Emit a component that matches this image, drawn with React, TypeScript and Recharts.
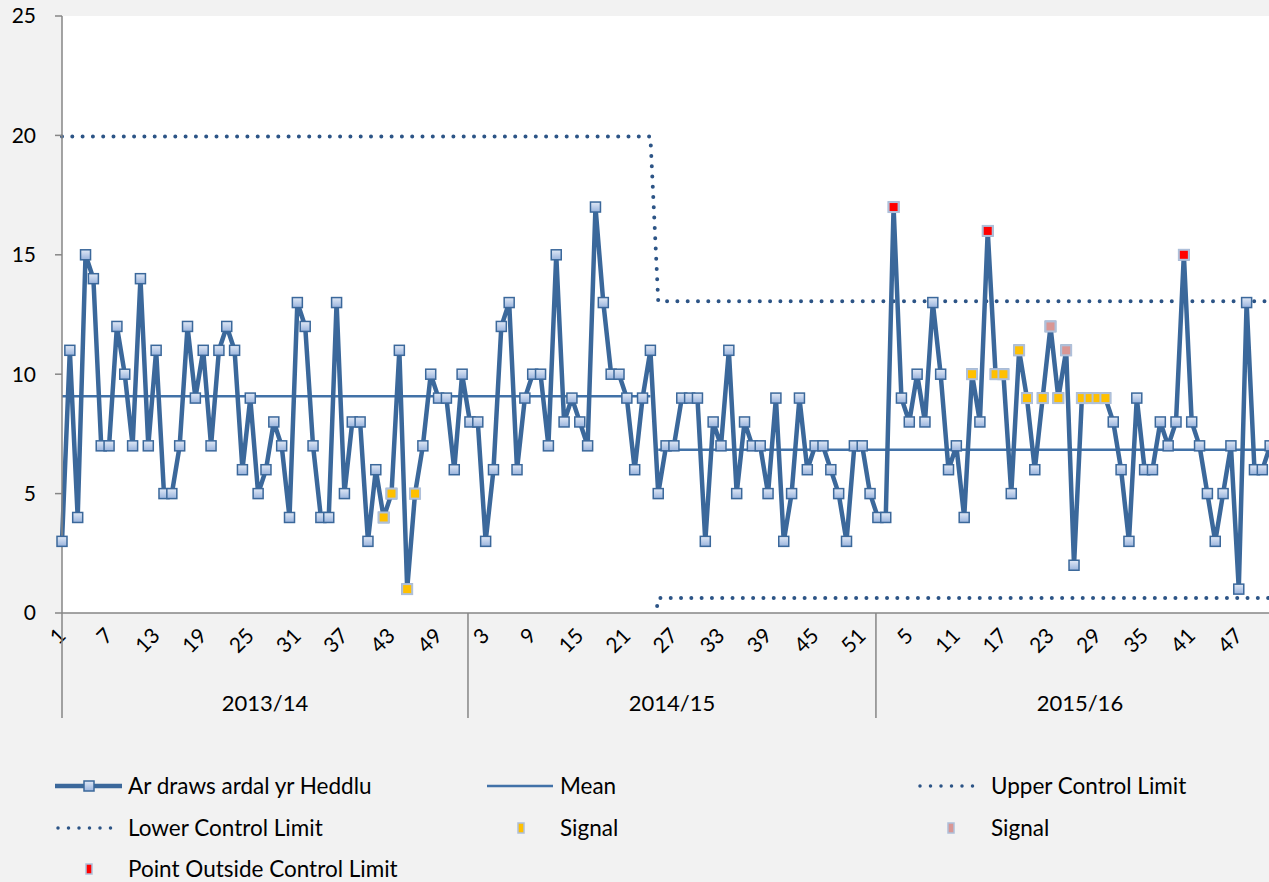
import React from 'react';
import { LineChart, Line, XAxis, YAxis, CartesianGrid } from 'recharts';

// ---------- data ----------
const years = ['2013/14', '2014/15', '2015/16'];
const weeksPerYear = 52;

const values2013 = [3, 11, 4, 15, 14, 7, 7, 12, 10, 7, 14, 7, 11, 5, 5, 7, 12, 9, 11, 7, 11, 12, 11, 6, 9, 5, 6, 8, 7, 4, 13, 12, 7, 4, 4, 13, 5, 8, 8, 3, 6, 4, 5, 11, 1, 5, 7, 10, 9, 9, 6, 10];
const values2014 = [8, 8, 3, 6, 12, 13, 6, 9, 10, 10, 7, 15, 8, 9, 8, 7, 17, 13, 10, 10, 9, 6, 9, 11, 5, 7, 7, 9, 9, 9, 3, 8, 7, 11, 5, 8, 7, 7, 5, 9, 3, 5, 9, 6, 7, 7, 6, 5, 3, 7, 7, 5];
const values2015 = [4, 4, 17, 9, 8, 10, 8, 13, 10, 6, 7, 4, 10, 8, 16, 10, 10, 5, 11, 9, 6, 9, 12, 9, 11, 2, 9, 9, 9, 9, 8, 6, 3, 9, 6, 6, 8, 7, 8, 15, 8, 7, 5, 3, 5, 7, 1, 13, 6, 6, 7];
const seriesValues = [values2013, values2014, values2015];

// signal weeks
const amberWeeks2013 = [42, 43, 45, 46];
const amberWeeks2015 = [13, 16, 17, 19, 20, 22, 24, 27, 28, 29, 30];
const pinkWeeks2015 = [23, 25];
const outsideWeeks2015 = [3, 15, 40];

// control limits (two phases; phase 2 starts 2014/15 week 25)
const meanPhases = [9.08, 6.84];
const uclPhases = [19.95, 13.05];
const lclPhases = [-1.79, 0.63];
const phaseChangeYear = 1;
const phaseChangeWeek = 25;

const yTicks = [0, 5, 10, 15, 20, 25];

// ---------- build rows ----------
type Row = {
  idx: number; year: string; week: number; value: number | null;
  mean1: number | null; mean2: number | null; ucl: number; lcl: number;
  amber: number | null; pink: number | null; red: number | null;
};
const rows: Row[] = [];
years.forEach((year, yi) => {
  for (let w = 1; w <= weeksPerYear; w++) {
    const v = seriesValues[yi][w - 1];
    const value = v === undefined ? null : v;
    const phase = yi > phaseChangeYear || (yi === phaseChangeYear && w >= phaseChangeWeek) ? 1 : 0;
    const amberList = yi === 0 ? amberWeeks2013 : yi === 2 ? amberWeeks2015 : [];
    const pinkList = yi === 2 ? pinkWeeks2015 : [];
    const redList = yi === 2 ? outsideWeeks2015 : [];
    rows.push({
      idx: rows.length, year, week: w, value,
      mean1: phase === 0 ? meanPhases[0] : null,
      mean2: phase === 1 ? meanPhases[1] : null,
      ucl: uclPhases[phase], lcl: lclPhases[phase],
      amber: amberList.includes(w) ? value : null,
      pink: pinkList.includes(w) ? value : null,
      red: redList.includes(w) ? value : null,
    });
  }
});

// ---------- layout ----------
const W = 1278;
const H = 882;
const YAXIS_W = 62;
const TOP = 16;
const AXIS_Y = 613;
const X_AXIS_H = 110;
const N = rows.length;
const STEP = (W - YAXIS_W) / (N - 1);
const FONT = 'Lato, "Open Sans", sans-serif';

const LINE = '#3B689B';
const MEAN = '#4272A8';
const LIMIT = '#2C5486';
const GRID = '#868686';
const MK = 10;

const MainDot = (props: any) => {
  const { cx, cy, index } = props;
  if (cx == null || cy == null || isNaN(cy)) return <g key={`m${index}`} />;
  return (
    <rect key={`m${index}`} x={cx - MK / 2} y={cy - MK / 2} width={MK} height={MK}
      fill="url(#markerGrad)" stroke={LINE} strokeWidth={1.5} />
  );
};

const makeSignalDot = (fill: string, prefix: string) => (props: any) => {
  const { cx, cy, index } = props;
  if (cx == null || cy == null || isNaN(cy)) return <g key={`${prefix}${index}`} />;
  return (
    <rect key={`${prefix}${index}`} x={cx - MK / 2} y={cy - MK / 2} width={MK} height={MK}
      fill={fill} stroke="#AFC0DA" strokeWidth={2} />
  );
};
const AmberDot = makeSignalDot('#FFC000', 'a');
const PinkDot = makeSignalDot('#D99694', 'p');
const RedDot = makeSignalDot('#FF0000', 'r');

const WeekTick = (props: any) => {
  const { x, payload } = props;
  const row = rows[payload.value];
  if (!row) return <g />;
  const parts: React.ReactNode[] = [];
  if (row.idx % 6 === 0) {
    const ax = x + 5;
    const ay = AXIS_Y + 24;
    parts.push(
      <text key="l" x={ax} y={ay} textAnchor="end" transform={`rotate(-45, ${ax}, ${ay})`}
        fontSize={21} fontFamily={FONT} fill="#000">{row.week}</text>
    );
  }
  if (row.week === 1) {
    const sepX = row.idx === 0 ? x : x - STEP * 0.25;
    parts.push(<line key="s" x1={sepX} x2={sepX} y1={AXIS_Y} y2={AXIS_Y + 105} stroke={GRID} strokeWidth={1.5} />);
    const cx = row.idx === 0 ? x + (weeksPerYear - 0.25) * STEP / 2 : sepX + (weeksPerYear * STEP) / 2;
    parts.push(
      <text key="y" x={cx} y={AXIS_Y + 98} textAnchor="middle" fontSize={22} fontFamily={FONT} fill="#000">{row.year}</text>
    );
  }
  return <g>{parts}</g>;
};

const legendRows = [
  { y: 786, items: [
    { kind: 'main', x: 55, label: 'Ar draws ardal yr Heddlu', tx: 128 },
    { kind: 'mean', x: 487, label: 'Mean', tx: 560 },
    { kind: 'dots', x: 917, label: 'Upper Control Limit', tx: 991 },
  ] },
  { y: 828, items: [
    { kind: 'dots', x: 55, label: 'Lower Control Limit', tx: 128 },
    { kind: 'amber', x: 487, label: 'Signal', tx: 560 },
    { kind: 'pink', x: 917, label: 'Signal', tx: 991 },
  ] },
  { y: 869, items: [
    { kind: 'red', x: 55, label: 'Point Outside Control Limit', tx: 128 },
  ] },
];

const LegendIcon = ({ kind, x, y }: { kind: string; x: number; y: number }) => {
  const cx = x + 34;
  if (kind === 'main') {
    return (
      <g>
        <line x1={x} x2={x + 67} y1={y} y2={y} stroke={LINE} strokeWidth={4.5} />
        <rect x={cx - MK / 2} y={y - MK / 2} width={MK} height={MK} fill="url(#markerGrad)" stroke={LINE} strokeWidth={1.5} />
      </g>
    );
  }
  if (kind === 'mean') return <line x1={x} x2={x + 66} y1={y} y2={y} stroke={MEAN} strokeWidth={2.5} />;
  if (kind === 'dots') {
    return <line x1={x + 3} x2={x + 66} y1={y} y2={y} stroke={LIMIT} strokeWidth={3.5} strokeLinecap="round" strokeDasharray="0 10.5" />;
  }
  const fill = kind === 'amber' ? '#FFC000' : kind === 'pink' ? '#D99694' : '#FF0000';
  return <rect x={cx - 3} y={y - 5} width={6} height={10} fill={fill} stroke="#AFC0DA" strokeWidth={1.5} />;
};

export default function App() {
  return (
    <div style={{ position: 'fixed', left: 0, top: 0, width: 1269, height: 882, overflow: 'hidden', background: '#F2F2F2' }}>
      <svg width={0} height={0} style={{ position: 'absolute' }}>
        <defs>
          <linearGradient id="markerGrad" x1="0" y1="0" x2="0" y2="1">
            <stop offset="0%" stopColor="#E1E9F6" />
            <stop offset="100%" stopColor="#98B3DD" />
          </linearGradient>
        </defs>
      </svg>
      <div style={{ position: 'absolute', left: 0, top: 0 }}>
        <LineChart width={W} height={H} data={rows}
          margin={{ top: TOP, right: 0, left: 0, bottom: H - AXIS_Y - X_AXIS_H }}>
          <CartesianGrid horizontal={false} vertical={false} fill="#FFFFFF" fillOpacity={1} stroke="none" />
          <XAxis dataKey="idx" type="category" scale="point" interval={0} height={X_AXIS_H}
            tick={<WeekTick />} tickLine={false} axisLine={{ stroke: GRID, strokeWidth: 1.5 }}
            padding={{ left: 0, right: 0 }} />
          <YAxis yAxisId="main" width={YAXIS_W} domain={[0, 25]} ticks={yTicks} interval={0}
            tick={{ fontSize: 21, fontFamily: FONT, fill: '#000' }}
            tickSize={7} tickMargin={19}
            tickLine={{ stroke: GRID, strokeWidth: 1.5 }} axisLine={{ stroke: GRID, strokeWidth: 1.5 }} />
          <YAxis yAxisId="clip" orientation="right" hide width={0} domain={[0, 25]} allowDataOverflow />
          <Line yAxisId="main" dataKey="mean1" stroke={MEAN} strokeWidth={2.5} dot={false} activeDot={false} isAnimationActive={false} />
          <Line yAxisId="main" dataKey="mean2" stroke={MEAN} strokeWidth={2.5} dot={false} activeDot={false} isAnimationActive={false} />
          <Line yAxisId="main" dataKey="ucl" stroke={LIMIT} strokeWidth={4} strokeLinecap="round" strokeDasharray="0 10.3" dot={false} activeDot={false} isAnimationActive={false} />
          <Line yAxisId="clip" dataKey="lcl" stroke={LIMIT} strokeWidth={4} strokeLinecap="round" strokeDasharray="0 10.3" dot={false} activeDot={false} isAnimationActive={false} />
          <Line yAxisId="main" dataKey="value" stroke={LINE} strokeWidth={4.5} strokeLinejoin="round" dot={MainDot} activeDot={false} isAnimationActive={false} />
          <Line yAxisId="main" dataKey="amber" stroke="none" dot={AmberDot} activeDot={false} isAnimationActive={false} />
          <Line yAxisId="main" dataKey="pink" stroke="none" dot={PinkDot} activeDot={false} isAnimationActive={false} />
          <Line yAxisId="main" dataKey="red" stroke="none" dot={RedDot} activeDot={false} isAnimationActive={false} />
        </LineChart>
      </div>
      <svg width={1269} height={140} style={{ position: 'absolute', left: 0, top: 742 }}>
        {legendRows.map((r) => r.items.map((it) => (
          <g key={`${r.y}-${it.tx}`}>
            <LegendIcon kind={it.kind} x={it.x} y={r.y - 742} />
            <text x={it.tx} y={r.y - 742} dy="0.35em" fontSize={22.5} fontFamily={FONT} fill="#000">{it.label}</text>
          </g>
        )))}
      </svg>
    </div>
  );
}
